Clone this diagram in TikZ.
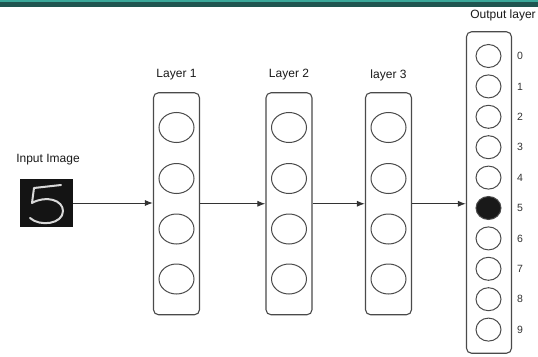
\documentclass[tikz,border=0pt]{standalone}
\usepackage{fontspec}
\setmainfont{Liberation Sans}
\usetikzlibrary{shapes.geometric,arrows.meta}
\definecolor{barteal}{HTML}{1F5550}
\definecolor{barlight}{HTML}{3AA89A}
\definecolor{linegray}{HTML}{4A4A4A}
\begin{document}
\begin{tikzpicture}[x=1pt,y=-1pt,
 layerbox/.style={draw=linegray, line width=1.1pt, rounded corners=5pt, minimum width=46pt, minimum height=222pt, inner sep=0},
 neuron/.style={ellipse, draw=linegray, line width=1pt, minimum width=35pt, minimum height=30pt, inner sep=0},
 outneuron/.style={ellipse, draw=linegray, line width=1pt, minimum width=25pt, minimum height=23pt, inner sep=0},
 lbl/.style={font=\fontsize{12}{14}\selectfont, text=black!90, inner sep=0},
 digit/.style={font=\fontsize{10.5}{12}\selectfont, text=black!80, inner sep=0},
 conn/.style={-{Latex[length=8pt,width=6pt]}, line width=1pt, draw=black!80}]
\useasboundingbox (0,0) rectangle (538,356);
\fill[barteal] (0,0) rectangle (538,7);
\fill[barlight] (0,0) rectangle (538,1.5);

% input image
\node[lbl] (inlbl) at (48,160) {Input Image};
\node[fill=black!92, minimum width=53pt, minimum height=48pt, inner sep=0] (img) at (46.5,203) {};
\draw[white!85!black, line width=2pt, line cap=round, line join=round]
  (61,185) -- (34,188) -- (32,203)
  .. controls (46,195) and (63,200) .. (63,211)
  .. controls (63,224) and (40,227) .. (30,218);

% hidden layers
\node[layerbox] (L1) at (176.5,203.75) {};
\node[layerbox] (L2) at (289,203.75) {};
\node[layerbox] (L3) at (388.5,203.75) {};
\node[lbl] (t1) at (176.5,75) {Layer 1};
\node[lbl] (t2) at (289,75) {Layer 2};
\node[lbl] (t3) at (388.5,75) {layer 3};
\foreach \L/\x in {L1/176.5, L2/289, L3/388.5}{
  \foreach \y [count=\i] in {127.5,178.5,229,279}{
    \node[neuron] (\L n\i) at (\x,\y) {};
  }
}

% output layer
\node[layerbox, minimum width=45pt, minimum height=321.5pt] (out) at (489,192.5) {};
\node[lbl] (tout) at (503,15) {Output layer};
\foreach \d in {0,...,9}{
  \pgfmathsetmacro{\yy}{56+30.4*\d}
  \ifnum\d=5
    \node[outneuron, fill=black!90] (o\d) at (488.5,\yy) {};
  \else
    \node[outneuron] (o\d) at (488.5,\yy) {};
  \fi
  \node[digit] (d\d) at (520,\yy) {\d};
}

% connectors
\draw[conn] (img.east) -- (img.east -| L1.west);
\draw[conn] (L1.east) -- (L2.west);
\draw[conn] (L2.east) -- (L3.west);
\draw[conn] (L3.east) -- (L3.east -| out.west);
\end{tikzpicture}
\end{document}
